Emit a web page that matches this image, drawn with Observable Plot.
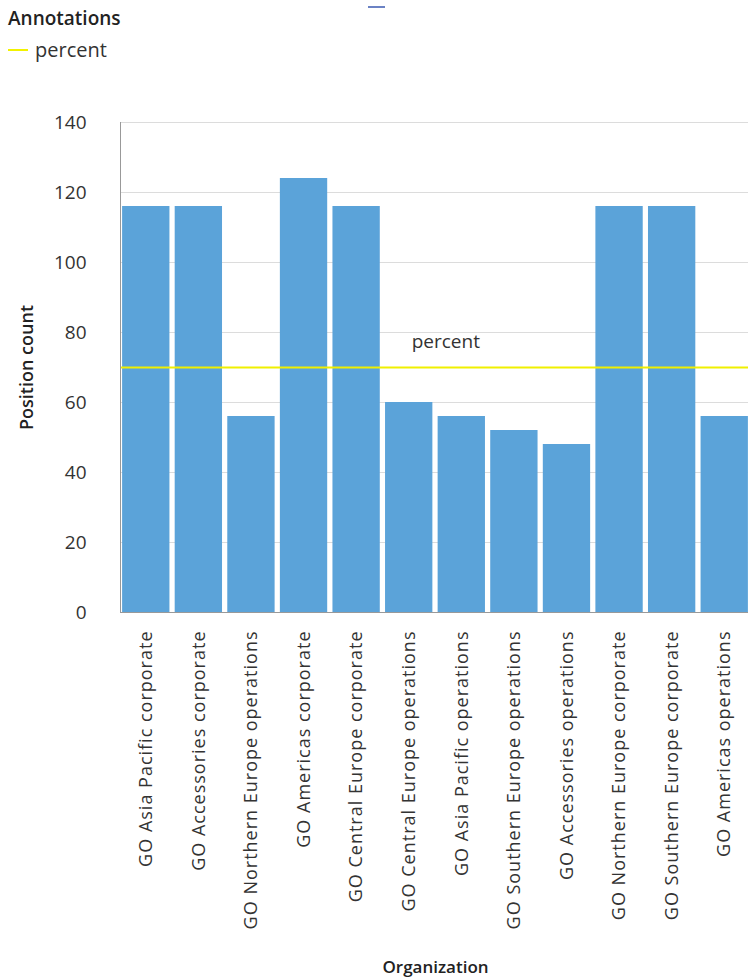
<!DOCTYPE html>
<html><head><meta charset="utf-8">
<script src="https://cdn.jsdelivr.net/npm/d3@7"></script>
<script src="https://cdn.jsdelivr.net/npm/@observablehq/plot@0.6"></script>
<style>
body{margin:0;background:#fff;font-family:"Open Sans", Roboto, sans-serif;}
#legend{position:relative;height:90px;}
#legend .title{position:absolute;left:8px;top:5px;font-size:19px;font-weight:600;color:#222;}
#legend .item{position:absolute;left:8px;top:36px;font-size:20px;color:#333;display:flex;align-items:center;}
#legend .sw{display:inline-block;width:20px;height:2px;background:#f2f200;margin-right:7px;}
#legend .mark{position:absolute;left:368px;top:6px;width:17px;height:2px;background:#6b82c4;}
g[aria-label="x-axis label"] text, g[aria-label="y-axis label"] text{font-weight:600;fill:#222;}
g[aria-label="x-axis label"] text{font-size:17px;}
g[aria-label="y-axis label"] text{font-size:18px;}
g[aria-label="x-axis tick label"] text{letter-spacing:1px;}
</style></head><body>
<div id="legend">
  <div class="title">Annotations</div>
  <div class="item"><span class="sw"></span><span id="legtext"></span></div>
  <div class="mark"></div>
</div>
<div id="chart"></div>
<script>
const organizations = [
  "GO Asia Pacific corporate",
  "GO Accessories corporate",
  "GO Northern Europe operations",
  "GO Americas corporate",
  "GO Central Europe corporate",
  "GO Central Europe operations",
  "GO Asia Pacific operations",
  "GO Southern Europe operations",
  "GO Accessories operations",
  "GO Northern Europe corporate",
  "GO Southern Europe corporate",
  "GO Americas operations"
];
const positionCounts = [116, 116, 56, 124, 116, 60, 56, 52, 48, 116, 116, 56];
const annotationLabel = "percent";
const annotationValue = 70;
const yTicks = [0, 20, 40, 60, 80, 100, 120, 140];

document.getElementById("legtext").textContent = annotationLabel;

const data = organizations.map((org, i) => ({org, count: positionCounts[i]}));

const chart = Plot.plot({
  width: 748,
  height: 888,
  marginTop: 32,
  marginBottom: 366,
  marginLeft: 120,
  marginRight: -2,
  style: {fontFamily: "'Open Sans', Roboto, sans-serif", fontSize: "18px", color: "#333", background: "#fff", overflow: "hidden"},
  x: {domain: organizations, paddingInner: 0.1, paddingOuter: 0.04, round: false},
  y: {domain: [0, 140]},
  marks: [
    Plot.gridY(yTicks, {stroke: "#dcdcdc", strokeOpacity: 1}),
    Plot.barY(data, {x: "org", y: "count", fill: "#5ba3d9"}),
    Plot.ruleY([annotationValue], {stroke: "#f0f000", strokeWidth: 2}),
    Plot.text([annotationLabel], {x: () => organizations[6], y: () => annotationValue, text: d => d, dy: -26, dx: -16, fill: "#333", fontSize: 19}),
    Plot.ruleY([0], {stroke: "#999"}),
    Plot.frame({anchor: "left", stroke: "#999"}),
    Plot.axisX({tickRotate: -90, tickSize: 0, tickPadding: 18, label: "Organization", labelAnchor: "center", labelOffset: 360, labelArrow: "none", fontSize: 18}),
    Plot.axisY(yTicks, {tickSize: 0, tickPadding: 34, label: "Position count", labelAnchor: "center", labelOffset: 100, labelArrow: "none", fontSize: 19})
  ]
});
document.getElementById("chart").appendChild(chart);
</script>
</body></html>
